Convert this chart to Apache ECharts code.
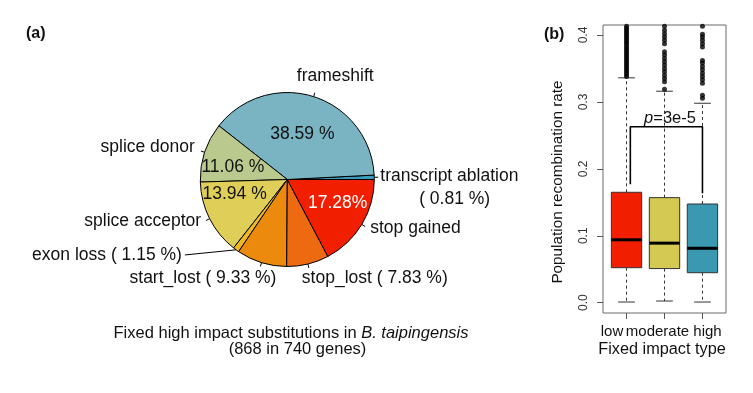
<!DOCTYPE html>
<html><head><meta charset="utf-8">
<script src="https://cdn.jsdelivr.net/npm/echarts@6/dist/echarts.min.js"></script>
<style>html,body{margin:0;padding:0;background:#fff}#chart{width:753px;height:393px}</style>
</head><body><div id="chart"></div>
<script>
// ---------- data: pie (a) ----------
const sliceNames = ['transcript ablation','frameshift','splice donor','splice acceptor','exon loss','start_lost','stop_lost','stop gained'];
const slicePercents = [0.81, 38.59, 11.06, 13.94, 1.15, 9.33, 7.83, 17.28];
const sliceOuterLabels = ['transcript ablation\n        ( 0.81 %)','frameshift','splice donor','splice acceptor','exon loss ( 1.15 %)','start_lost ( 9.33 %)','stop_lost ( 7.83 %)','stop gained'];
const sliceInnerLabels = ['','38.59 %','11.06 %','13.94 %','','','','17.28%'];

// ---------- data: boxplot (b) ----------
const impactTypes = ['low','moderate','high'];
const impactPositions = [1, 2, 3];
// [lower whisker, Q1, median, Q3, upper whisker]
const boxLow = [0.001, 0.0523, 0.094, 0.165, 0.336];
const boxModerate = [0.0025, 0.051, 0.089, 0.157, 0.316];
const boxHigh = [0.001, 0.0448, 0.0813, 0.1475, 0.298];
const outliersLow = [0.338,0.341,0.344,0.347,0.350,0.353,0.356,0.359,0.362,0.365,0.368,0.371,0.374,0.377,0.380,0.383,0.386,0.389,0.392,0.395,0.398,0.401,0.404,0.407,0.410,0.413];
const outliersModerate = [0.319,0.330,0.335,0.340,0.345,0.350,0.355,0.360,0.365,0.370,0.375,0.387,0.392,0.397,0.402,0.407,0.413];
const outliersHigh = [0.3055,0.310,0.328,0.333,0.338,0.343,0.348,0.353,0.358,0.362,0.382,0.387,0.392,0.397,0.401,0.413];
const yTicks = [0, 0.1, 0.2, 0.3, 0.4];
const bracketX = [1.1, 1.1, 3, 3];
const bracketY = [0.177, 0.263, 0.263, 0.1635];
const pValueText = '3e-5';

// ---------- styles ----------
const FONT = 'Liberation Sans, Arial, sans-serif';
const sliceColors = ['#3b9bbd','#7ab4c2','#bac98e','#dfcf58','#efb820','#ec8a0e','#ee6a10','#f21e00'];
const innerLabelColors = ['#111','#111','#111','#111','#111','#111','#111','#ffffff'];
const outerLabelShift = [[-3,10],[-23,-17],[-1,-4],[0,1],[0,3.5],[21,12],[-12,10],[0,2]];
const innerLabelShift = [[0,0],[1,-1.3],[-10.3,2.4],[-11.2,-5.8],[0,0],[0,0],[0,0],[10.5,-0.7]];
const boxColors = ['#f21e00','#d4c952','#3a99b1'];
const xLabelPad = [[0,29,0,0],[0,14,0,0],[0,0,0,10]];
const PIE_CENTER = [287.3, 179.5];
const PIE_R = 87;
const Y_MIN = -0.01539, Y_MAX = 0.41494;

const boxRows = [boxLow, boxModerate, boxHigh].map((b, i) => [impactPositions[i]].concat(b));
const outlierPts = [];
[outliersLow, outliersModerate, outliersHigh].forEach((arr, i) => arr.forEach(v => outlierPts.push([impactPositions[i], v])));
const bracketPts = bracketX.map((x, i) => [x, bracketY[i]]);

const chart = echarts.init(document.getElementById('chart'), null, {renderer: 'canvas'});

const option = {
  animation: false,
  backgroundColor: '#ffffff',
  textStyle: {fontFamily: FONT},
  grid: [{
    left: 603, top: 25, width: 123, height: 288,
    show: true, borderColor: '#6a6a6a', borderWidth: 1, backgroundColor: 'transparent',
    outerBoundsMode: 'none', containLabel: false
  }],
  xAxis: [{
    type: 'value', gridIndex: 0, min: 0.38, max: 3.62,
    axisLine: {show: false, onZero: false},
    splitLine: {show: false},
    axisTick: {show: true, inside: false, length: 6, customValues: impactPositions, lineStyle: {color: '#555', width: 1}},
    axisLabel: {
      show: true, customValues: impactPositions, margin: 11,
      formatter: v => { const i = impactPositions.indexOf(Math.round(v)); return '{c' + i + '|' + impactTypes[i] + '}'; },
      rich: {
        c0: {fontSize: 15, fontFamily: FONT, color: '#111', padding: xLabelPad[0]},
        c1: {fontSize: 15, fontFamily: FONT, color: '#111', padding: xLabelPad[1]},
        c2: {fontSize: 15, fontFamily: FONT, color: '#111', padding: xLabelPad[2]}
      }
    }
  }],
  yAxis: [{
    type: 'value', gridIndex: 0, min: Y_MIN, max: Y_MAX,
    axisLine: {show: false, onZero: false},
    splitLine: {show: false},
    axisTick: {show: true, inside: false, length: 6, customValues: yTicks, lineStyle: {color: '#555', width: 1}},
    axisLabel: {show: true, customValues: yTicks, rotate: 90, margin: 13, fontSize: 12, fontFamily: FONT, color: '#333',
      formatter: v => v.toFixed(1)}
  }],
  series: [
    {
      type: 'pie', center: PIE_CENTER, radius: PIE_R, startAngle: 0, clockwise: false,
      avoidLabelOverlap: false, silent: true, emphasis: {disabled: true},
      itemStyle: {borderColor: '#000', borderWidth: 1},
      data: sliceNames.map((n, i) => ({
        name: n, value: slicePercents[i], itemStyle: {color: sliceColors[i]},
        labelLine: i === 4 ? {length: 2, length2: 48} : undefined
      })),
      label: {show: true, position: 'outside', alignTo: 'none', distanceToLabelLine: 5,
        formatter: p => sliceOuterLabels[p.dataIndex],
        fontSize: 17.5, lineHeight: 23, fontFamily: FONT, color: '#111'},
      labelLine: {show: true, length: 4, length2: 0, smooth: false, lineStyle: {color: '#000', width: 1}},
      labelLayout: function (params) {
        const s = outerLabelShift[params.dataIndex];
        const res = {dx: s[0], dy: s[1]};
        if (params.labelLinePoints) res.labelLinePoints = params.labelLinePoints;
        if (params.dataIndex === 4 && params.labelLinePoints) {
          const r = params.labelRect;
          res.labelLinePoints = [params.labelLinePoints[0], [r.x + r.width + s[0] + 3, r.y + r.height / 2 + s[1]]];
        }
        return res;
      }
    },
    {
      type: 'pie', center: PIE_CENTER, radius: PIE_R, startAngle: 0, clockwise: false,
      avoidLabelOverlap: false, silent: true, emphasis: {disabled: true},
      itemStyle: {color: 'rgba(0,0,0,0)', borderWidth: 0},
      data: sliceNames.map((n, i) => ({name: n, value: slicePercents[i], label: {color: innerLabelColors[i]}})),
      label: {show: true, position: 'inside', formatter: p => sliceInnerLabels[p.dataIndex],
        fontSize: 17.5, fontFamily: FONT},
      labelLine: {show: false},
      labelLayout: function (params) {
        const s = innerLabelShift[params.dataIndex];
        return {dx: s[0], dy: s[1]};
      }
    },
    {
      type: 'custom', xAxisIndex: 0, yAxisIndex: 0, data: boxRows,
      encode: {x: 0, y: [1, 2, 3, 4, 5]},
      renderItem: function (params, api) {
        const x = api.value(0);
        const v = [1, 2, 3, 4, 5].map(k => api.value(k));
        const half = api.size([0.8, 0])[0] / 2;
        const cap = half * 0.55;
        const p = v.map(val => api.coord([x, val]));
        const cx = p[2][0];
        const dash = {stroke: '#333', lineWidth: 1, lineDash: [3, 3]};
        const solid = {stroke: '#333', lineWidth: 1};
        return {type: 'group', children: [
          {type: 'line', shape: {x1: cx, y1: p[3][1], x2: cx, y2: p[4][1]}, style: dash},
          {type: 'line', shape: {x1: cx, y1: p[1][1], x2: cx, y2: p[0][1]}, style: dash},
          {type: 'line', shape: {x1: cx - cap, y1: p[4][1], x2: cx + cap, y2: p[4][1]}, style: solid},
          {type: 'line', shape: {x1: cx - cap, y1: p[0][1], x2: cx + cap, y2: p[0][1]}, style: solid},
          {type: 'rect', shape: {x: cx - half, y: p[3][1], width: half * 2, height: p[1][1] - p[3][1]},
            style: {fill: boxColors[params.dataIndex], stroke: '#333', lineWidth: 1}},
          {type: 'line', shape: {x1: cx - half, y1: p[2][1], x2: cx + half, y2: p[2][1]}, style: {stroke: '#000', lineWidth: 3}}
        ]};
      }
    },
    {
      type: 'scatter', xAxisIndex: 0, yAxisIndex: 0, data: outlierPts,
      symbol: 'circle', symbolSize: 5, itemStyle: {color: '#000'}, silent: true
    },
    {
      type: 'line', xAxisIndex: 0, yAxisIndex: 0, data: bracketPts,
      symbol: 'none', lineStyle: {color: '#000', width: 1.6}, silent: true
    }
  ],
  graphic: [
    {type: 'text', x: 26, y: 33.5, style: {text: '(a)', font: 'bold 16px ' + FONT, fill: '#111', align: 'left', verticalAlign: 'middle'}},
    {type: 'text', x: 544, y: 35, style: {text: '(b)', font: 'bold 16px ' + FONT, fill: '#111', align: 'left', verticalAlign: 'middle'}},
    {type: 'text', x: 291, y: 333, style: {
      text: 'Fixed high impact substitutions in {i|B. taipingensis}',
      font: '16.5px ' + FONT, fill: '#111', align: 'center', verticalAlign: 'middle',
      rich: {i: {fontStyle: 'italic', fontSize: 16.5, fontFamily: FONT, fill: '#111'}}}},
    {type: 'text', x: 297.5, y: 349.5, style: {text: '(868 in 740 genes)', font: '16.5px ' + FONT, fill: '#111', align: 'center', verticalAlign: 'middle'}},
    {type: 'text', x: 558, y: 182, rotation: Math.PI / 2, style: {text: 'Population recombination rate', font: '15.3px ' + FONT, fill: '#111', align: 'center', verticalAlign: 'middle'}},
    {type: 'text', x: 662, y: 350, style: {text: 'Fixed impact type', font: '16.3px ' + FONT, fill: '#111', align: 'center', verticalAlign: 'middle'}},
    {type: 'text', x: 670, y: 118, style: {
      text: '{i|p}{n|=' + pValueText + '}', align: 'center', verticalAlign: 'middle',
      rich: {i: {fontStyle: 'italic', fontSize: 16.5, fontFamily: FONT, fill: '#111'},
             n: {fontSize: 16.5, fontFamily: FONT, fill: '#111'}}}}
  ]
};
chart.setOption(option);
</script>
</body></html>
